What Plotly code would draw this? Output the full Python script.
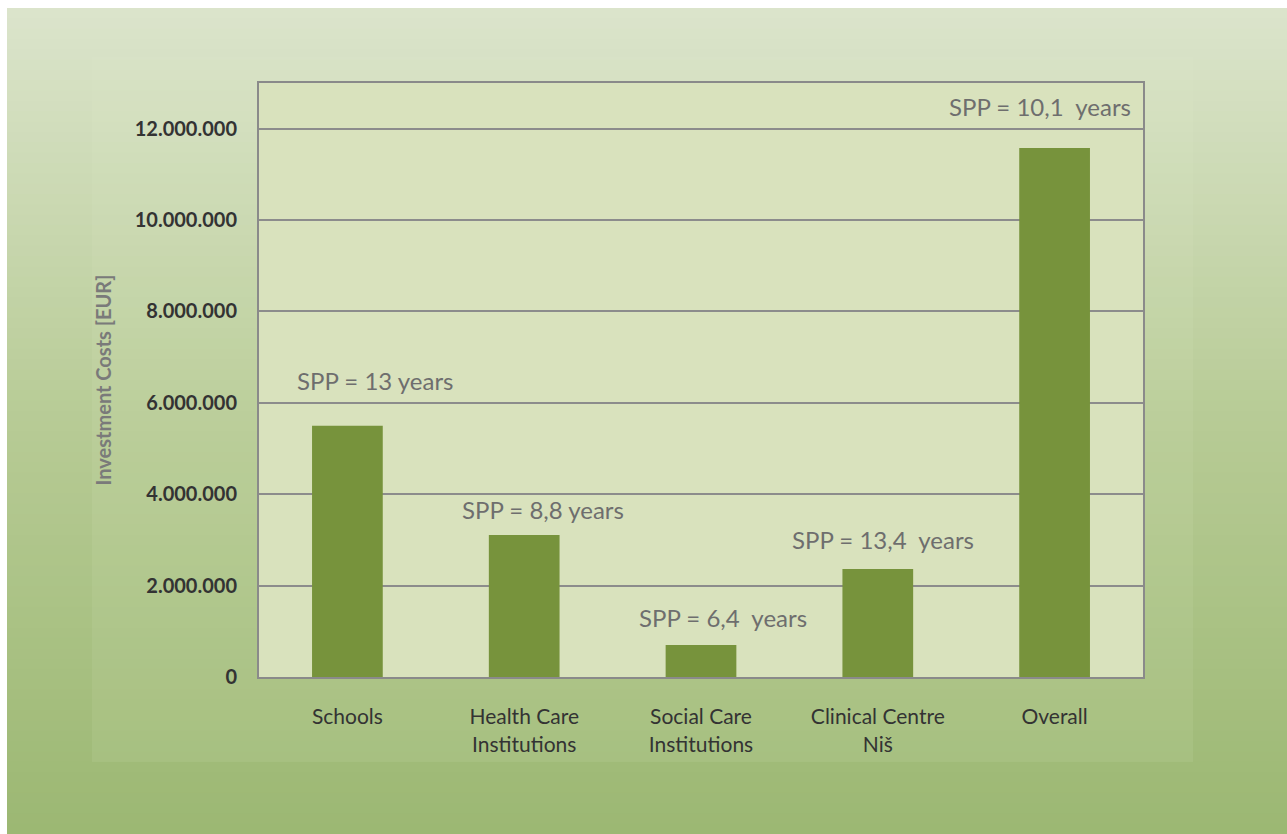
import plotly.graph_objects as go

categories = ["Schools", "Health Care<br>Institutions", "Social Care<br>Institutions",
              "Clinical Centre<br>Niš", "Overall"]
investment = [5500000, 3110000, 700000, 2365000, 11580000]
spp_labels = ["SPP = 13 years", "SPP = 8,8 years", "SPP = 6,4  years",
              "SPP = 13,4  years", "SPP = 10,1  years"]
label_y = [6480000, 3660000, 1310000, 3000000, 12480000]
label_shift = [28, 19, 22, 5, -15]
tick_vals = [0, 2000000, 4000000, 6000000, 8000000, 10000000, 12000000]

W, H = 1287, 834
L, R, T, B = 259, 144, 83, 157
pw, ph = W - L - R, H - T - B


def px(x):
    return (x - L) / pw


def py(y):
    return (H - B - y) / ph


fig = go.Figure()
fig.add_trace(go.Bar(x=categories, y=investment, marker_color="#77933c",
                     marker_line_width=0, width=0.4, showlegend=False))

shapes = []
# background vertical gradient (pixel rows converted to paper coords)
top_c = (219, 228, 203)
mid_c = (183, 203, 149)
bot_c = (156, 184, 115)
n = 80
top_px, bot_px = 8, H
for i in range(n):
    t = i / (n - 1)
    if t < 0.5:
        u = t / 0.5
        c = [round(top_c[k] + (mid_c[k] - top_c[k]) * u) for k in range(3)]
    else:
        u = (t - 0.5) / 0.5
        c = [round(mid_c[k] + (bot_c[k] - mid_c[k]) * u) for k in range(3)]
    ya = top_px + (bot_px - top_px) * i / n
    yb = top_px + (bot_px - top_px) * (i + 1) / n + 1
    shapes.append(dict(type="rect", xref="paper", yref="paper", layer="below",
                       x0=px(7), x1=px(W + 2), y0=py(min(yb, H + 2)), y1=py(ya),
                       fillcolor="rgb(%d,%d,%d)" % tuple(c), line_width=0))
# inner chart panel
shapes.append(dict(type="rect", xref="paper", yref="paper", layer="below",
                   x0=px(92), x1=px(1193), y0=py(762), y1=py(57),
                   fillcolor="rgba(235,242,215,0.09)", line_width=0))
# plot area
shapes.append(dict(type="rect", xref="x domain", yref="y domain", layer="below",
                   x0=0, x1=1, y0=0, y1=1, fillcolor="#d9e2bd", line_width=0))
fig.update_layout(shapes=shapes)

for c, t, yv, s in zip(categories, spp_labels, label_y, label_shift):
    fig.add_annotation(x=c, y=yv, text=t, showarrow=False, xshift=s,
                       font=dict(family="Lato", size=24, color="#6e6e6e"))

fig.update_layout(
    width=W, height=H,
    margin=dict(l=L, r=R, t=T, b=B),
    paper_bgcolor="white",
    plot_bgcolor="rgba(0,0,0,0)",
    separators=",.",
    font=dict(family="Lato"),
    xaxis=dict(showline=True, linecolor="#8a8a8a", linewidth=2, mirror=True,
               ticks="", ticklabelstandoff=20,
               tickfont=dict(family="Lato", size=21, color="#333333")),
    yaxis=dict(range=[0, 13000000], tickvals=tick_vals, tickformat=",d",
               showline=True, linecolor="#8a8a8a", linewidth=2, mirror=True,
               showgrid=True, gridcolor="#8c8c8c", gridwidth=1.5,
               zeroline=False, ticks="", ticklabelstandoff=16,
               tickfont=dict(family="Lato", size=20, color="#333333", weight="bold"),
               title=dict(text="<b>Investment Costs [EUR]</b>", standoff=18,
                          font=dict(family="Lato", size=20, color="#7a7a7a"))),
)

fig.write_html("out.html")
